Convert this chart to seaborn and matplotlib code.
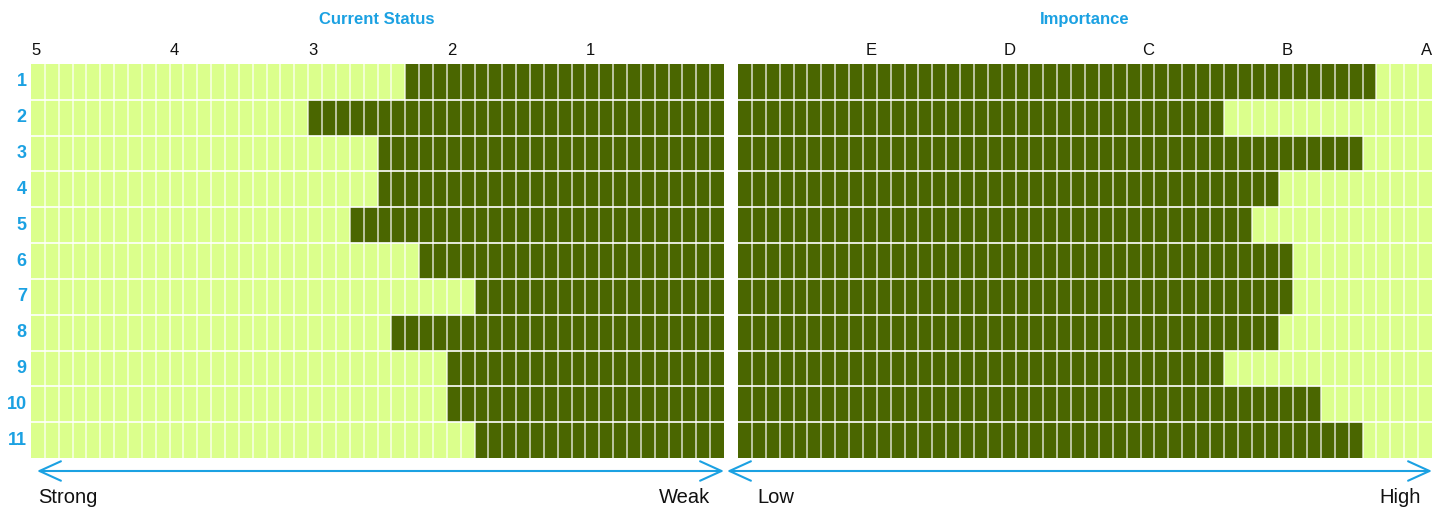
import numpy as np
import pandas as pd
import matplotlib
matplotlib.use("Agg")
import matplotlib.pyplot as plt
from matplotlib.colors import ListedColormap
from matplotlib.patches import FancyArrowPatch
import seaborn as sns

# ---- data ----
rows = ["1", "2", "3", "4", "5", "6", "7", "8", "9", "10", "11"]
current_status = [2.3, 3.0, 2.5, 2.5, 2.7, 2.2, 1.8, 2.4, 2.0, 2.0, 1.8]   # 5 (strong) .. 0 (weak)
importance = [4.6, 3.5, 4.5, 3.9, 3.7, 4.0, 4.0, 3.9, 3.5, 4.2, 4.5]       # 0 (low) .. 5 (high)
status_ticks = ["5", "4", "3", "2", "1"]
importance_ticks = ["E", "D", "C", "B", "A"]
n_cells = 50  # 0.1 steps over a 0..5 scale

# ---- build cell matrices ----
status_mat = np.zeros((len(rows), n_cells))
imp_mat = np.zeros((len(rows), n_cells))
for i, (s, v) in enumerate(zip(current_status, importance)):
    ns = int(round(s * 10))
    nv = int(round(v * 10))
    status_mat[i, n_cells - ns:] = 1
    imp_mat[i, :nv] = 1
status_df = pd.DataFrame(status_mat, index=rows)
imp_df = pd.DataFrame(imp_mat, index=rows)

LIGHT = "#dbff8c"
DARK = "#4a6600"
BLUE = "#1ba1e2"
cmap = ListedColormap([LIGHT, DARK])

sns.set_style("white")
plt.rcParams["font.family"] = ["Liberation Sans", "DejaVu Sans"]

W, H = 1445, 511
fig = plt.figure(figsize=(W / 100, H / 100), dpi=100)

def px_axes(x0, x1, y0, y1):
    return fig.add_axes([x0 / W, 1 - y1 / H, (x1 - x0) / W, (y1 - y0) / H])

ax1 = px_axes(31, 724, 64, 458)
ax2 = px_axes(738, 1432, 64, 458)

for ax, df in ((ax1, status_df), (ax2, imp_df)):
    sns.heatmap(df, ax=ax, cmap=cmap, vmin=0, vmax=1, cbar=False,
                linewidths=0, xticklabels=False)
    ax.vlines(np.arange(1, n_cells), 0, len(rows), colors="white", alpha=0.8, lw=1.1)
    ax.hlines(np.arange(1, len(rows)), 0, n_cells, colors="white", lw=1.2)
    ax.tick_params(length=0)
    for sp in ax.spines.values():
        sp.set_visible(False)

# left panel ticks
ax1.xaxis.tick_top()
ax1.set_xticks([0, 10, 20, 30, 40])
ax1.set_xticklabels(status_ticks, fontsize=12, color="#111111", ha="left")
ax1.tick_params(axis="x", pad=4)
ax1.set_yticks(np.arange(len(rows)) + 0.5)
ax1.set_yticklabels(rows, fontsize=13, fontweight="bold", color=BLUE, rotation=0)
ax1.tick_params(axis="y", pad=3)
ax1.set_xlabel("")
ax1.set_ylabel("")

# right panel ticks
ax2.xaxis.tick_top()
ax2.set_xticks([10, 20, 30, 40, 50])
ax2.set_xticklabels(importance_ticks, fontsize=12, color="#111111", ha="right")
ax2.tick_params(axis="x", pad=4)
ax2.set_yticks([])
ax2.set_xlabel("")
ax2.set_ylabel("")

# titles
fig.text(377 / W, 1 - 19 / H, "Current Status", ha="center", va="center",
         fontsize=12, fontweight="bold", color=BLUE)
fig.text(1085 / W, 1 - 19 / H, "Importance", ha="center", va="center",
         fontsize=12, fontweight="bold", color=BLUE)

# arrows
arrow_kw = dict(arrowstyle="<->,head_length=1.1,head_width=0.5", color=BLUE, lw=1.5,
                shrinkA=0, shrinkB=0, mutation_scale=14, transform=fig.transFigure)
y_arr = 1 - 471 / H
fig.add_artist(FancyArrowPatch((37 / W, y_arr), (724 / W, y_arr), **arrow_kw))
fig.add_artist(FancyArrowPatch((727 / W, y_arr), (1432 / W, y_arr), **arrow_kw))

y_lab = 1 - 497 / H
fig.text(38 / W, y_lab, "Strong", ha="left", va="center", fontsize=14.5, color="#111111")
fig.text(710 / W, y_lab, "Weak", ha="right", va="center", fontsize=14.5, color="#111111")
fig.text(757 / W, y_lab, "Low", ha="left", va="center", fontsize=14.5, color="#111111")
fig.text(1421 / W, y_lab, "High", ha="right", va="center", fontsize=14.5, color="#111111")

fig.savefig("out.png", dpi=100, facecolor="white")
